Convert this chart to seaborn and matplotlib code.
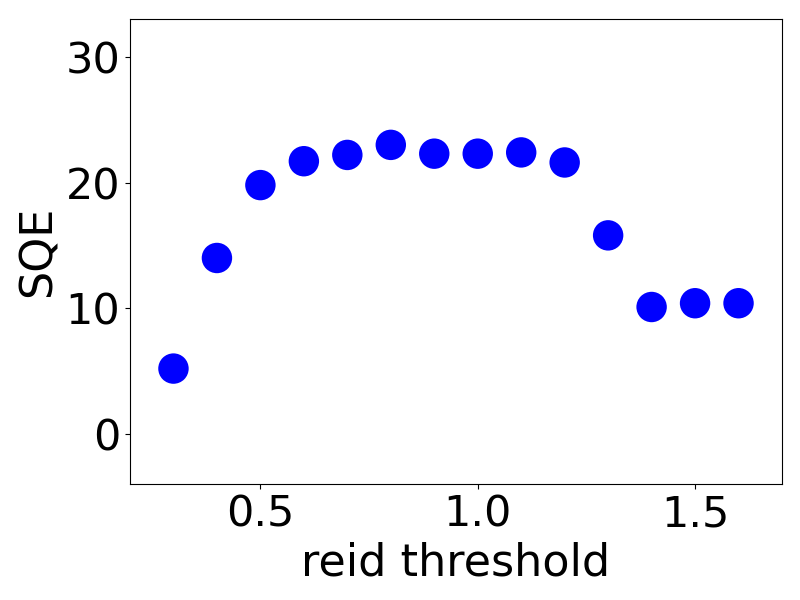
import matplotlib
matplotlib.use("Agg")
import matplotlib.pyplot as plt
import seaborn as sns
import pandas as pd

reid_threshold = [0.3, 0.4, 0.5, 0.6, 0.7, 0.8, 0.9, 1.0, 1.1, 1.2, 1.3, 1.4, 1.5, 1.6]
sqe = [5.2, 14.0, 19.8, 21.7, 22.2, 23.0, 22.3, 22.3, 22.4, 21.6, 15.8, 10.1, 10.4, 10.4]

df = pd.DataFrame({"reid threshold": reid_threshold, "SQE": sqe})

fig, ax = plt.subplots(figsize=(8, 6), dpi=100)
sns.scatterplot(data=df, x="reid threshold", y="SQE", ax=ax, color="blue", s=480, edgecolor="none")
ax.set_xlim(0.2, 1.7)
ax.set_ylim(-4, 33)
ax.set_xticks([0.5, 1.0, 1.5])
ax.set_yticks([0, 10, 20, 30])
ax.tick_params(labelsize=31)
ax.set_xlabel("reid threshold", fontsize=32)
ax.set_ylabel("SQE", fontsize=32)
fig.subplots_adjust(left=0.1625, right=0.9775, top=0.968, bottom=0.193)
fig.savefig("out.png", dpi=100)
